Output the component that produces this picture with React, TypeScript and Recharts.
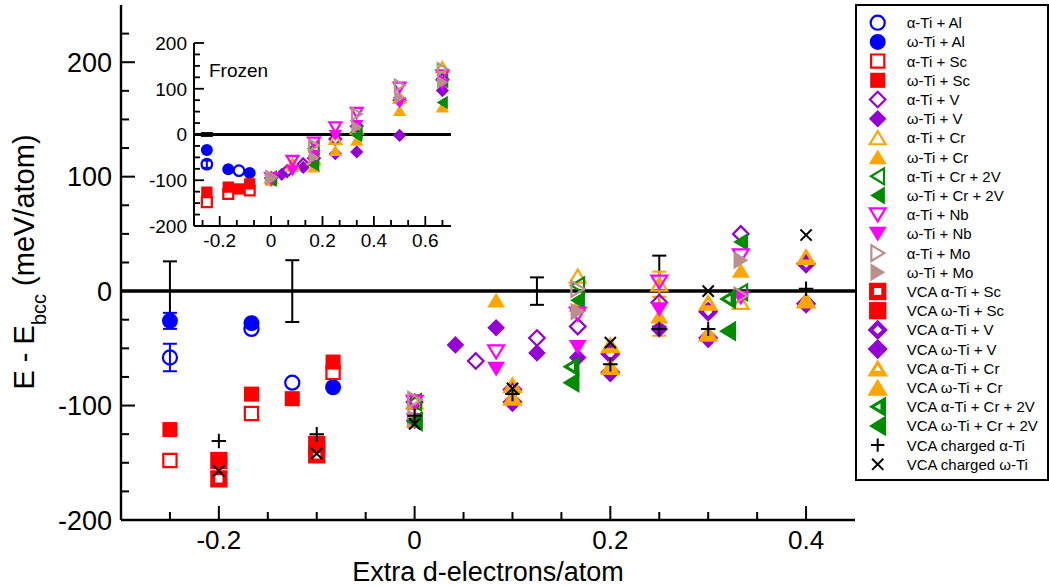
import React from 'react';
import { ScatterChart, Scatter, XAxis, YAxis, ReferenceLine, ErrorBar } from 'recharts';

const FONT = '"Liberation Sans", Arial, Helvetica, sans-serif';

const BLUE = '#0000ff';
const RED = '#ff0000';
const VIOLET = '#9400d3';
const ORANGE = '#ffa500';
const GREEN = '#008b00';
const MAGENTA = '#ff00ff';
const BROWN = '#bc8f8f';
const BLACK = '#000000';

// ---------- ticks ----------
const mainXTicks = [-0.25, -0.2, -0.15, -0.1, -0.05, 0, 0.05, 0.1, 0.15, 0.2, 0.25, 0.3, 0.35, 0.4];
const mainXLabels = [-0.2, 0, 0.2, 0.4];
const mainYTicks = [-200, -175, -150, -125, -100, -75, -50, -25, 0, 25, 50, 75, 100, 125, 150, 175, 200, 225];
const mainYLabels = [-200, -100, 0, 100, 200];
const insetXTicks = [-4 / 15, -3 / 15, -2 / 15, -1 / 15, 0, 1 / 15, 2 / 15, 3 / 15, 4 / 15, 5 / 15, 6 / 15, 7 / 15, 8 / 15, 9 / 15, 10 / 15];
const insetXLabels = [-0.2, 0, 0.2, 0.4, 0.6];
const insetYTicks = [-200, -175, -150, -125, -100, -75, -50, -25, 0, 25, 50, 75, 100, 125, 150, 175, 200];
const insetYLabels = [-200, -100, 0, 100, 200];

// ---------- main (relaxed) data ----------
const mainUncertainty = [{ x: -0.25, y: 0, err: 26 }, { x: -0.125, y: 0, err: 27 }, { x: 0.125, y: 0, err: 12 }, { x: 0.25, y: 0, err: 31 }];
const mainAlphaAl = [{ x: -0.25, y: -58, err: 12 }, { x: -0.1667, y: -33 }, { x: -0.125, y: -80 }];
const mainOmegaAl = [{ x: -0.25, y: -26, err: 7 }, { x: -0.1667, y: -28 }, { x: -0.0833, y: -84 }];
const mainAlphaSc = [{ x: -0.25, y: -148 }, { x: -0.1667, y: -107 }, { x: -0.0833, y: -71 }, { x: 0, y: -97 }];
const mainOmegaSc = [{ x: -0.25, y: -121 }, { x: -0.1667, y: -90 }, { x: -0.125, y: -94 }, { x: -0.0833, y: -62 }, { x: 0, y: -113 }];
const mainAlphaV = [{ x: 0, y: -97 }, { x: 0.0625, y: -61 }, { x: 0.125, y: -41 }, { x: 0.1667, y: -31 }, { x: 0.25, y: -10 }, { x: 0.3333, y: 50 }];
const mainOmegaV = [{ x: 0, y: -113 }, { x: 0.0417, y: -47 }, { x: 0.0833, y: -32 }, { x: 0.125, y: -54 }, { x: 0.1667, y: -58 }, { x: 0.25, y: -33 }];
const mainAlphaCr = [{ x: 0, y: -97 }, { x: 0.1667, y: 13 }, { x: 0.25, y: 6, err: 11 }, { x: 0.3333, y: -10 }];
const mainOmegaCr = [{ x: 0, y: -113 }, { x: 0.0833, y: -8 }, { x: 0.1667, y: -12 }, { x: 0.25, y: -22, err: 17 }, { x: 0.3333, y: 18 }];
const mainAlphaCr2V = [{ x: 0, y: -97 }, { x: 0.1667, y: 5 }, { x: 0.3333, y: -1 }];
const mainOmegaCr2V = [{ x: 0, y: -113 }, { x: 0.1667, y: -8 }, { x: 0.3333, y: 43 }];
const mainAlphaNb = [{ x: 0, y: -97 }, { x: 0.0833, y: -53 }, { x: 0.1667, y: -20 }, { x: 0.25, y: 8 }, { x: 0.3333, y: 31 }];
const mainOmegaNb = [{ x: 0, y: -113 }, { x: 0.0833, y: -68 }, { x: 0.1667, y: -49 }, { x: 0.25, y: -16 }, { x: 0.3333, y: -6 }];
const mainAlphaMo = [{ x: 0, y: -95 }, { x: 0.1667, y: 2 }, { x: 0.3333, y: -4 }];
const mainOmegaMo = [{ x: 0, y: -111 }, { x: 0.1667, y: -18 }, { x: 0.3333, y: 27 }];
const mainVcaAlphaSc = [{ x: -0.2, y: -164 }, { x: -0.1, y: -143 }];
const mainVcaOmegaSc = [{ x: -0.2, y: -148 }, { x: -0.1, y: -134 }];
const mainVcaAlphaV = [{ x: 0.1, y: -86 }, { x: 0.2, y: -55 }, { x: 0.3, y: -18 }, { x: 0.4, y: 24 }];
const mainVcaOmegaV = [{ x: 0.1, y: -97 }, { x: 0.2, y: -71 }, { x: 0.3, y: -41 }, { x: 0.4, y: -11 }];
const mainVcaAlphaCr = [{ x: 0.1, y: -82 }, { x: 0.2, y: -47 }, { x: 0.3, y: -10 }, { x: 0.4, y: 30 }];
const mainVcaOmegaCr = [{ x: 0.1, y: -93 }, { x: 0.2, y: -66 }, { x: 0.3, y: -37 }, { x: 0.4, y: -8 }];
const mainVcaAlphaCr2V = [{ x: 0.16, y: -66 }, { x: 0.32, y: -7 }];
const mainVcaOmegaCr2V = [{ x: 0, y: -114 }, { x: 0.16, y: -80 }, { x: 0.32, y: -35 }];
const mainChargedAlpha = [{ x: -0.2, y: -131 }, { x: -0.1, y: -125 }, { x: 0, y: -109 }, { x: 0.1, y: -90 }, { x: 0.2, y: -64 }, { x: 0.25, y: -33 }, { x: 0.3, y: -33 }, { x: 0.4, y: 2 }];
const mainChargedOmega = [{ x: -0.2, y: -157 }, { x: -0.1, y: -142 }, { x: 0, y: -116 }, { x: 0.1, y: -85 }, { x: 0.2, y: -45 }, { x: 0.3, y: 0 }, { x: 0.4, y: 49 }];

// ---------- inset (frozen) data ----------
const frozenUncertainty = [{ x: -0.25, y: 0, err: 2 }];
const frozenAlphaAl = [{ x: -0.25, y: -65, err: 8 }, { x: -0.125, y: -79 }];
const frozenOmegaAl = [{ x: -0.25, y: -34 }, { x: -0.1667, y: -76 }, { x: -0.0833, y: -84 }];
const frozenAlphaSc = [{ x: -0.25, y: -148 }, { x: -0.1667, y: -130 }, { x: -0.0833, y: -122 }];
const frozenOmegaSc = [{ x: -0.25, y: -126 }, { x: -0.1667, y: -115 }, { x: -0.125, y: -119 }, { x: -0.0833, y: -108 }];
const frozenAlphaV = [{ x: 0, y: -95 }, { x: 0.0625, y: -80 }, { x: 0.125, y: -65 }, { x: 0.1667, y: -52 }, { x: 0.25, y: -10 }, { x: 0.3333, y: 18 }, { x: 0.5, y: 75 }, { x: 0.6667, y: 120 }];
const frozenOmegaV = [{ x: 0, y: -100 }, { x: 0.0417, y: -87 }, { x: 0.125, y: -72 }, { x: 0.1667, y: -62 }, { x: 0.25, y: -42 }, { x: 0.3333, y: -38 }, { x: 0.5, y: -2 }, { x: 0.6667, y: 96 }];
const frozenAlphaCr = [{ x: 0, y: -95 }, { x: 0.0833, y: -64 }, { x: 0.1667, y: -55 }, { x: 0.25, y: -10 }, { x: 0.3333, y: 12 }, { x: 0.5, y: 80 }, { x: 0.6667, y: 147 }];
const frozenOmegaCr = [{ x: 0, y: -100 }, { x: 0.0833, y: -70 }, { x: 0.1667, y: -71 }, { x: 0.25, y: -35 }, { x: 0.3333, y: -13 }, { x: 0.5, y: 52 }, { x: 0.6667, y: 60 }];
const frozenAlphaCr2V = [{ x: 0, y: -95 }, { x: 0.1667, y: -30 }, { x: 0.3333, y: 5 }, { x: 0.6667, y: 118 }];
const frozenOmegaCr2V = [{ x: 0, y: -100 }, { x: 0.1667, y: -67 }, { x: 0.3333, y: -2 }, { x: 0.6667, y: 70 }];
const frozenAlphaNb = [{ x: 0, y: -95 }, { x: 0.0833, y: -57 }, { x: 0.1667, y: -17 }, { x: 0.25, y: 16 }, { x: 0.3333, y: 48 }, { x: 0.5, y: 103 }, { x: 0.6667, y: 130 }];
const frozenOmegaNb = [{ x: 0, y: -100 }, { x: 0.0833, y: -79 }, { x: 0.1667, y: -45 }, { x: 0.25, y: -2 }, { x: 0.3333, y: 20 }, { x: 0.5, y: 70 }, { x: 0.6667, y: 110 }];
const frozenAlphaMo = [{ x: 0, y: -93 }, { x: 0.1667, y: -24 }, { x: 0.3333, y: 45 }, { x: 0.5, y: 107 }, { x: 0.6667, y: 143 }];
const frozenOmegaMo = [{ x: 0, y: -97 }, { x: 0.1667, y: -50 }, { x: 0.3333, y: 16 }, { x: 0.5, y: 81 }, { x: 0.6667, y: 114 }];

type Kind = 'circle' | 'square' | 'diamond' | 'up' | 'down' | 'left' | 'right' | 'plus' | 'cross';
type Style = 'open' | 'filled' | 'ring' | 'big';
interface Pt { x: number; y: number; err?: number }
interface SeriesDef { name: string; kind: Kind; style: Style; color: string; main: Pt[]; frozen: Pt[] }

const SERIES: SeriesDef[] = [
  { name: 'α-Ti + Al', kind: 'circle', style: 'open', color: BLUE, main: mainAlphaAl, frozen: frozenAlphaAl },
  { name: 'ω-Ti + Al', kind: 'circle', style: 'filled', color: BLUE, main: mainOmegaAl, frozen: frozenOmegaAl },
  { name: 'α-Ti + Sc', kind: 'square', style: 'open', color: RED, main: mainAlphaSc, frozen: frozenAlphaSc },
  { name: 'ω-Ti + Sc', kind: 'square', style: 'filled', color: RED, main: mainOmegaSc, frozen: frozenOmegaSc },
  { name: 'α-Ti + V', kind: 'diamond', style: 'open', color: VIOLET, main: mainAlphaV, frozen: frozenAlphaV },
  { name: 'ω-Ti + V', kind: 'diamond', style: 'filled', color: VIOLET, main: mainOmegaV, frozen: frozenOmegaV },
  { name: 'α-Ti + Cr', kind: 'up', style: 'open', color: ORANGE, main: mainAlphaCr, frozen: frozenAlphaCr },
  { name: 'ω-Ti + Cr', kind: 'up', style: 'filled', color: ORANGE, main: mainOmegaCr, frozen: frozenOmegaCr },
  { name: 'α-Ti + Cr + 2V', kind: 'left', style: 'open', color: GREEN, main: mainAlphaCr2V, frozen: frozenAlphaCr2V },
  { name: 'ω-Ti + Cr + 2V', kind: 'left', style: 'filled', color: GREEN, main: mainOmegaCr2V, frozen: frozenOmegaCr2V },
  { name: 'α-Ti + Nb', kind: 'down', style: 'open', color: MAGENTA, main: mainAlphaNb, frozen: frozenAlphaNb },
  { name: 'ω-Ti + Nb', kind: 'down', style: 'filled', color: MAGENTA, main: mainOmegaNb, frozen: frozenOmegaNb },
  { name: 'α-Ti + Mo', kind: 'right', style: 'open', color: BROWN, main: mainAlphaMo, frozen: frozenAlphaMo },
  { name: 'ω-Ti + Mo', kind: 'right', style: 'filled', color: BROWN, main: mainOmegaMo, frozen: frozenOmegaMo },
  { name: 'VCA α-Ti + Sc', kind: 'square', style: 'ring', color: RED, main: mainVcaAlphaSc, frozen: [] },
  { name: 'VCA ω-Ti + Sc', kind: 'square', style: 'big', color: RED, main: mainVcaOmegaSc, frozen: [] },
  { name: 'VCA α-Ti + V', kind: 'diamond', style: 'ring', color: VIOLET, main: mainVcaAlphaV, frozen: [] },
  { name: 'VCA ω-Ti + V', kind: 'diamond', style: 'big', color: VIOLET, main: mainVcaOmegaV, frozen: [] },
  { name: 'VCA α-Ti + Cr', kind: 'up', style: 'ring', color: ORANGE, main: mainVcaAlphaCr, frozen: [] },
  { name: 'VCA ω-Ti + Cr', kind: 'up', style: 'big', color: ORANGE, main: mainVcaOmegaCr, frozen: [] },
  { name: 'VCA α-Ti + Cr + 2V', kind: 'left', style: 'ring', color: GREEN, main: mainVcaAlphaCr2V, frozen: [] },
  { name: 'VCA ω-Ti + Cr + 2V', kind: 'left', style: 'big', color: GREEN, main: mainVcaOmegaCr2V, frozen: [] },
  { name: 'VCA charged α-Ti', kind: 'plus', style: 'filled', color: BLACK, main: mainChargedAlpha, frozen: [] },
  { name: 'VCA charged ω-Ti', kind: 'cross', style: 'filled', color: BLACK, main: mainChargedOmega, frozen: [] },
];

function shapePath(kind: Kind, cx: number, cy: number, s: number): string {
  switch (kind) {
    case 'circle':
      return `M${cx - s},${cy} a${s},${s} 0 1,0 ${2 * s},0 a${s},${s} 0 1,0 ${-2 * s},0 Z`;
    case 'square': {
      const h = s * 0.94;
      return `M${cx - h},${cy - h} H${cx + h} V${cy + h} H${cx - h} Z`;
    }
    case 'diamond': {
      const h = s * 1.1;
      return `M${cx},${cy - h} L${cx + h},${cy} L${cx},${cy + h} L${cx - h},${cy} Z`;
    }
    case 'up':
      return `M${cx},${cy - s * 0.95} L${cx + s * 1.12},${cy + s * 0.9} L${cx - s * 1.12},${cy + s * 0.9} Z`;
    case 'down':
      return `M${cx},${cy + s * 0.95} L${cx + s * 1.12},${cy - s * 0.9} L${cx - s * 1.12},${cy - s * 0.9} Z`;
    case 'left':
      return `M${cx - s * 0.95},${cy} L${cx + s * 0.9},${cy - s * 1.12} L${cx + s * 0.9},${cy + s * 1.12} Z`;
    case 'right':
      return `M${cx + s * 0.95},${cy} L${cx - s * 0.9},${cy - s * 1.12} L${cx - s * 0.9},${cy + s * 1.12} Z`;
    default:
      return '';
  }
}

function Marker({ kind, style, color, cx, cy, s }: { kind: Kind; style: Style; color: string; cx: number; cy: number; s: number }) {
  if (cx == null || cy == null || isNaN(cx) || isNaN(cy)) return <g />;
  if (kind === 'plus') {
    const h = s * 0.95;
    return <path d={`M${cx - h},${cy} H${cx + h} M${cx},${cy - h} V${cy + h}`} stroke={color} strokeWidth={2} fill="none" />;
  }
  if (kind === 'cross') {
    const h = s * 0.7;
    return <path d={`M${cx - h},${cy - h} L${cx + h},${cy + h} M${cx - h},${cy + h} L${cx + h},${cy - h}`} stroke={color} strokeWidth={2} fill="none" />;
  }
  if (style === 'filled') return <path d={shapePath(kind, cx, cy, s)} fill={color} />;
  if (style === 'open') return <path d={shapePath(kind, cx, cy, s * 0.88)} fill="none" stroke={color} strokeWidth={2.2} />;
  if (style === 'big') return <path d={shapePath(kind, cx, cy, s * 1.15)} fill={color} />;
  const holeScale = kind === 'up' || kind === 'down' || kind === 'left' || kind === 'right' ? 0.38 : 0.48;
  return <path d={shapePath(kind, cx, cy, s * 1.15) + ' ' + shapePath(kind, cx, cy, s * holeScale)} fill={color} fillRule="evenodd" />;
}

const isIn = (arr: number[], v: number) => arr.some((a) => Math.abs(a - v) < 1e-6);
const fmt = (v: number) => (Math.abs(v) < 1e-9 ? '0' : Number.isInteger(v) ? String(v) : String(Math.round(v * 10) / 10));

type Side = 'left' | 'right' | 'top' | 'bottom';
function makeTick(side: Side, labels: number[], major: number, minor: number, sw: number, fontSize: number, offset: number, showLabels: boolean) {
  return (props: any) => {
    const { x, y, payload } = props;
    const v = payload.value;
    const isMajor = isIn(labels, v);
    const len = isMajor ? major : minor;
    let line = null;
    if (side === 'left') line = <line x1={x} x2={x + len} y1={y} y2={y} stroke="#000" strokeWidth={sw} />;
    if (side === 'right') line = <line x1={x} x2={x - len} y1={y} y2={y} stroke="#000" strokeWidth={sw} />;
    if (side === 'bottom') line = <line x1={x} x2={x} y1={y} y2={y - len} stroke="#000" strokeWidth={sw} />;
    if (side === 'top') line = <line x1={x} x2={x} y1={y} y2={y + len} stroke="#000" strokeWidth={sw} />;
    let label = null;
    if (showLabels && isMajor) {
      if (side === 'left')
        label = (
          <text x={x - offset} y={y} dy={fontSize * 0.36} textAnchor="end" fontSize={fontSize} fontFamily={FONT} fill="#000">
            {fmt(v)}
          </text>
        );
      if (side === 'bottom')
        label = (
          <text x={x} y={y + offset} textAnchor="middle" fontSize={fontSize} fontFamily={FONT} fill="#000">
            {fmt(v)}
          </text>
        );
    }
    return (
      <g>
        {line}
        {label}
      </g>
    );
  };
}

const mainAxisLine = { stroke: '#000', strokeWidth: 2.4 };
const insetAxisLine = { stroke: '#000', strokeWidth: 2 };

const mainBottomTick = makeTick('bottom', mainXLabels, 14, 8, 2, 26, 28.5, true);
const mainTopTick = makeTick('top', mainXLabels, 14, 8, 2, 26, 0, false);
const mainLeftTick = makeTick('left', mainYLabels, 14, 8, 2, 27, 9, true);
const mainRightTick = makeTick('right', mainYLabels, 14, 8, 2, 27, 0, false);

const insetBottomTick = makeTick('bottom', insetXLabels, 10, 6, 1.8, 19, 21, true);
const insetTopTick = makeTick('top', insetXLabels, 10, 6, 1.8, 19, 0, false);
const insetLeftTick = makeTick('left', insetYLabels, 10, 6, 1.8, 19, 7, true);
const insetRightTick = makeTick('right', insetYLabels, 10, 6, 1.8, 19, 0, false);

const hasErr = (pts: Pt[]) => pts.some((p) => p.err != null);

function renderSeries(key: 'main' | 'frozen', s: number) {
  return SERIES.filter((d) => d[key].length > 0).map((d) => (
    <Scatter
      key={d.name}
      name={d.name}
      data={d[key]}
      isAnimationActive={false}
      shape={(p: any) => <Marker kind={d.kind} style={d.style} color={d.color} cx={p.cx} cy={p.cy} s={d.kind === 'plus' ? s * 0.95 : s} />}
    >
      {hasErr(d[key]) ? <ErrorBar dataKey="err" direction="y" width={key === 'main' ? 7 : 5} stroke={d.color} strokeWidth={2} /> : null}
    </Scatter>
  ));
}

function Legend() {
  const rowTop = 16.7;
  const rowStep = 19.2;
  return (
    <div
      style={{
        position: 'absolute',
        left: 855,
        top: 4,
        width: 194,
        height: 477,
        boxSizing: 'border-box',
        border: '2px solid #000',
        background: '#fff',
      }}
    >
      <svg width={190} height={473} style={{ display: 'block' }}>
        {SERIES.map((d, i) => {
          const cy = rowTop + i * rowStep;
          return (
            <g key={d.name}>
              <Marker kind={d.kind} style={d.style} color={d.color} cx={20.7} cy={cy} s={d.kind === 'plus' ? 7 : 8} />
              <text x={49.7} y={cy} dy={5.4} fontSize={15} fontFamily={FONT} fill="#000">
                {d.name}
              </text>
            </g>
          );
        })}
      </svg>
    </div>
  );
}

export default function App() {
  return (
    <div style={{ position: 'absolute', left: 0, top: 0, width: 1049, height: 586, background: '#fff', overflow: 'hidden', fontFamily: FONT }}>
      <div style={{ position: 'absolute', left: 0, top: 0 }}>
        <ScatterChart width={1049} height={586} margin={{ top: 5, right: 194, bottom: 0, left: 0 }}>
          <XAxis type="number" dataKey="x" domain={[-0.3, 0.45]} ticks={mainXTicks} interval={0} tickSize={0} tickMargin={0} tick={mainBottomTick} tickLine={false} axisLine={mainAxisLine} height={66} allowDataOverflow />
          <XAxis xAxisId="top" orientation="top" type="number" domain={[-0.3, 0.45]} ticks={mainXTicks} interval={0} tickSize={0} tickMargin={0} tick={mainTopTick} tickLine={false} axisLine={mainAxisLine} height={0} allowDataOverflow />
          <YAxis type="number" dataKey="y" domain={[-200, 250]} ticks={mainYTicks} interval={0} tickSize={0} tickMargin={0} tick={mainLeftTick} tickLine={false} axisLine={mainAxisLine} width={121} allowDataOverflow />
          <YAxis yAxisId="right" orientation="right" type="number" domain={[-200, 250]} ticks={mainYTicks} interval={0} tickSize={0} tickMargin={0} tick={mainRightTick} tickLine={false} axisLine={mainAxisLine} width={0} allowDataOverflow />
          <ReferenceLine y={0} stroke="#000" strokeWidth={3.5} />
          <Scatter name="uncertainty" data={mainUncertainty} isAnimationActive={false} shape={() => <g />}>
            <ErrorBar dataKey="err" direction="y" width={7} stroke="#000" strokeWidth={2} />
          </Scatter>
          {renderSeries('main', 8)}
        </ScatterChart>
      </div>

      <div style={{ position: 'absolute', left: 140, top: 30 }}>
        <ScatterChart width={316} height={230} margin={{ top: 13, right: 5, bottom: 0, left: 0 }}>
          <XAxis type="number" dataKey="x" domain={[-0.3, 0.7]} ticks={insetXTicks} interval={0} tickSize={0} tickMargin={0} tick={insetBottomTick} tickLine={false} axisLine={insetAxisLine} height={34} allowDataOverflow />
          <XAxis xAxisId="top" orientation="top" type="number" domain={[-0.3, 0.7]} ticks={insetXTicks} interval={0} tickSize={0} tickMargin={0} tick={insetTopTick} tickLine={false} axisLine={insetAxisLine} height={0} allowDataOverflow />
          <YAxis type="number" dataKey="y" domain={[-200, 200]} ticks={insetYTicks} interval={0} tickSize={0} tickMargin={0} tick={insetLeftTick} tickLine={false} axisLine={insetAxisLine} width={54} allowDataOverflow />
          <YAxis yAxisId="right" orientation="right" type="number" domain={[-200, 200]} ticks={insetYTicks} interval={0} tickSize={0} tickMargin={0} tick={insetRightTick} tickLine={false} axisLine={insetAxisLine} width={0} allowDataOverflow />
          <ReferenceLine y={0} stroke="#000" strokeWidth={3} />
          <Scatter name="uncertainty" data={frozenUncertainty} isAnimationActive={false} shape={() => <g />}>
            <ErrorBar dataKey="err" direction="y" width={6} stroke="#000" strokeWidth={3} />
          </Scatter>
          {renderSeries('frozen', 6)}
        </ScatterChart>
      </div>

      <div style={{ position: 'absolute', left: 209, top: 61, fontSize: 19, lineHeight: '20px', fontFamily: FONT, color: '#000' }}>Frozen</div>

      <svg width={1049} height={586} style={{ position: 'absolute', left: 0, top: 0, pointerEvents: 'none' }}>
        <text x={488} y={581} textAnchor="middle" fontSize={27} fontFamily={FONT} fill="#000">
          Extra d-electrons/atom
        </text>
        <text x={34} y={262} transform="rotate(-90, 34, 262)" textAnchor="middle" fontSize={29} fontFamily={FONT} fill="#000">
          <tspan>E - E</tspan>
          <tspan fontSize={20} dy={12}>bcc</tspan>
          <tspan dy={-12}> (meV/atom)</tspan>
        </text>
      </svg>

      <Legend />
    </div>
  );
}
